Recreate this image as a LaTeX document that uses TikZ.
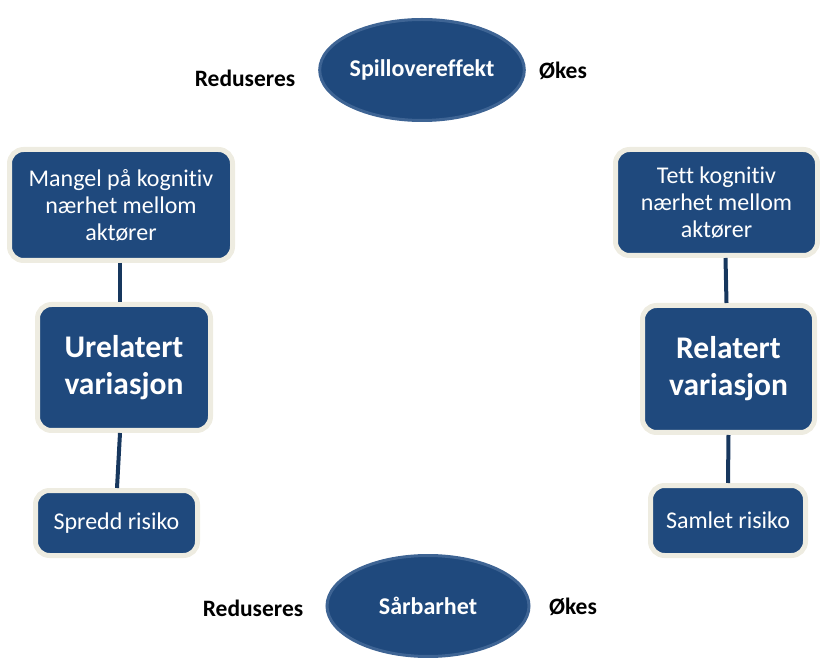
\documentclass[tikz,border=0pt]{standalone}
\usepackage{fontspec}
\setmainfont{Carlito}[Ligatures=NoCommon]
\usetikzlibrary{shapes.geometric}
\definecolor{boxblue}{RGB}{31,73,125}
\definecolor{rimblue}{RGB}{62,100,148}
\definecolor{cream}{RGB}{238,236,225}
\definecolor{linkblue}{RGB}{23,55,94}
\begin{document}
\begin{tikzpicture}[x=1pt,y=1pt,
  card/.style={rectangle, rounded corners=14pt, fill=boxblue, draw=cream,
    line width=5pt, text=white, align=center, inner sep=2pt},
  smalltext/.style={font=\fontsize{24}{27}\selectfont},
  bigtext/.style={font=\bfseries\fontsize{31.5}{37}\selectfont},
  oval/.style={ellipse, fill=boxblue, draw=rimblue, line width=3pt,
    text=white, font=\bfseries\fontsize{24}{28}\selectfont, inner sep=0pt},
  sidelabel/.style={font=\bfseries\fontsize{23.5}{28}\selectfont, text=black},
  link/.style={draw=linkblue, line width=4pt}]
\useasboundingbox (0,0) rectangle (820,657);

% left column
\node[card, smalltext, minimum width=223pt, minimum height=111pt]
  (mangel) at (121,452) {Mangel på kognitiv\\nærhet mellom\\aktører};
\node[card, bigtext, minimum width=173pt, minimum height=126pt]
  (urel) at (124,289.5) {Urelatert\\variasjon};
\node[card, smalltext, minimum width=162pt, minimum height=65pt]
  (spredd) at (116.5,134) {Spredd risiko};

% right column
\node[card, smalltext, minimum width=202pt, minimum height=106pt]
  (tett) at (716.5,454.5) {Tett kognitiv\\nærhet mellom\\aktører};
\node[card, bigtext, minimum width=172pt, minimum height=127pt]
  (rel) at (728.5,288) {Relatert\\variasjon};
\node[card, smalltext, minimum width=155pt, minimum height=70pt]
  (samlet) at (728,136.5) {Samlet risiko};

% connectors
\draw[link] ([xshift=-1pt]mangel.south) -- ([xshift=-4pt]urel.north);
\draw[link] ([xshift=-4pt]urel.south) -- ([xshift=0.5pt]spredd.north);
\draw[link] ([xshift=9pt]tett.south) -- ([xshift=-2pt]rel.north);
\draw[link] (rel.south) -- (samlet.north);

% ovals
\node[oval, minimum width=200pt, minimum height=101pt] (spill) at (422,587) {\raisebox{4pt}{Spillovereffekt}};
\node[oval, minimum width=202pt, minimum height=101pt] (sar) at (428,51) {Sårbarhet};

% side labels
\node[sidelabel] (redtop) at (245,579) {Reduseres};
\node[sidelabel] (oktop) at (563,586) {Økes};
\node[sidelabel] (redbot) at (253,49) {Reduseres};
\node[sidelabel] (okbot) at (573,50) {Økes};
\end{tikzpicture}
\end{document}
